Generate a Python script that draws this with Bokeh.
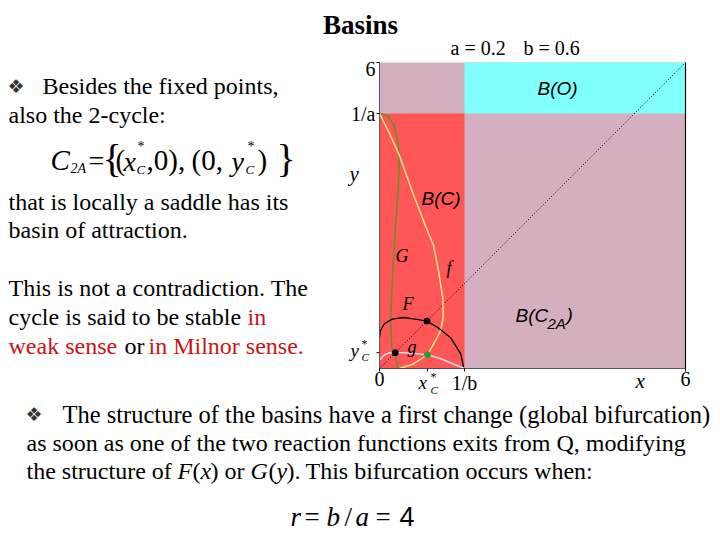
import numpy as np
from bokeh.plotting import figure
from bokeh.models import Label, Range1d
from bokeh.embed import file_html
from bokeh.resources import INLINE

# ---------------- data ----------------
a_par = 0.2
b_par = 0.6
inv_a = 1 / a_par
inv_b = 1 / b_par
x_max = 6
x_c_star = 0.94
y_c_star = 0.31

basin_left = [0, inv_b, 0]
basin_right = [x_max, x_max, inv_b]
basin_bottom = [0, inv_a, 0]
basin_top = [x_max, x_max, inv_a]
basin_colors = ["#D4AFBF", "#80FFFF", "#FF5757"]

f_x = [0, 0.2, 0.39, 0.65, 0.9, 1.06, 1.16, 1.24, 1.25, 1.2, 1.1, 0.94, 0.65, 0.39]
f_y = [5, 4.6, 4.18, 3.45, 2.8, 2.41, 1.9, 1.39, 1.0, 0.75, 0.55, 0.27, 0.08, 0.0]

G_x = [0, 0.16, 0.29, 0.35, 0.39, 0.37, 0.33, 0.29, 0.24, 0.22, 0.24, 0.31, 0.36]
G_y = [5, 4.96, 4.76, 4.51, 4.18, 3.53, 3.0, 2.41, 1.53, 0.88, 0.41, 0.31, 0.0]

F_x = [0, 0.02, 0.1, 0.25, 0.47, 0.7, 0.93, 1.15, 1.39, 1.59, 1.65]
F_y = [0.62, 0.75, 0.88, 0.97, 1.0, 0.97, 0.93, 0.8, 0.61, 0.29, 0.02]

g_x = [0, 0.1, 0.2, 0.31, 0.5, 0.74, 0.94, 1.2, 1.45, 1.667]
g_y = [0.17, 0.27, 0.31, 0.31, 0.31, 0.29, 0.27, 0.19, 0.09, 0.0]

diag_x = [0, x_max]
diag_y = [0, x_max]

fixed_x = [0.31, 0.93]
fixed_y = [0.31, 0.93]
cycle_x = [x_c_star]
cycle_y = [0.27]

x_ticks = [0, x_c_star, inv_b, x_max]
x_tick_labels = ["0", "", "1/b", "6"]
y_ticks = [y_c_star, inv_a, x_max]
y_tick_labels = ["", "1/a", "6"]

# ---------------- figure ----------------
W, H = 720, 540
PX0, PY0, UNIT = 379, 368, 51.0   # screen position of the chart origin, pixels per unit
p = figure(width=W, height=H,
           x_range=Range1d(-PX0 / UNIT, (W - PX0) / UNIT),
           y_range=Range1d(-(H - PY0) / UNIT, PY0 / UNIT),
           output_backend="svg", toolbar_location=None,
           x_axis_location=None, y_axis_location=None, min_border=0)
p.grid.visible = False
p.outline_line_color = None
p.background_fill_color = "white"
p.border_fill_color = "white"

p.quad(left=basin_left, right=basin_right, bottom=basin_bottom, top=basin_top,
       fill_color=basin_colors, line_color=None)

p.line(diag_x, diag_y, line_color="black", line_dash="1 2", line_width=1)
p.line(G_x, G_y, line_color="#6E8B2A", line_width=1.6)
p.line(f_x, f_y, line_color="#FFEB8A", line_width=1.4)
p.line(F_x, F_y, line_color="black", line_width=1.3)
p.line(g_x, g_y, line_color="#D8D8E0", line_width=1.6)
p.scatter(fixed_x, fixed_y, size=6, color="black")
p.scatter(cycle_x, cycle_y, size=6, color="#2E9A2E")

# frame of the phase plane
p.line([0, 0], [0, x_max], line_color="#555577", line_width=1)
p.line([x_max, x_max], [0, x_max], line_color="black", line_width=1.2)
p.line([0, x_max], [0, 0], line_color="#333333", line_width=0.8)

# axis ticks and tick labels (drawn with the chart scales)
tick = 3 / UNIT
p.segment(x0=x_ticks, y0=[0] * len(x_ticks), x1=x_ticks, y1=[-tick] * len(x_ticks),
          line_color="black", line_width=1)
p.segment(x0=[0] * len(y_ticks), y0=y_ticks, x1=[-tick] * len(y_ticks), y1=y_ticks,
          line_color="black", line_width=1)
p.text(x=x_ticks, y=[0] * len(x_ticks), text=x_tick_labels, text_align="center",
       text_baseline="top", y_offset=3, text_font="Liberation Serif",
       text_font_size="20px", text_color="black")
p.text(x=[0] * len(y_ticks), y=y_ticks, text=y_tick_labels, text_align="right",
       text_baseline="middle", x_offset=-4, y_offset=[0, 0, 6], text_font="Liberation Serif",
       text_font_size="20px", text_color="black")


def lab(txt, px, py, size=24, color="black", style="normal", font="Liberation Serif",
        align="left"):
    p.add_layout(Label(x=px, y=H - py, x_units="screen", y_units="screen",
                       text=txt, text_font=font, text_font_size=f"{size}px",
                       text_color=color, text_font_style=style, text_align=align,
                       text_baseline="middle"))


RED = "#C81414"
# title
lab("Basins", 360, 24, size=27, style="bold", align="center")

# left text
lab("\u2756", 7, 85, size=19, font="DejaVu Sans", color="#333333")
lab("Besides the fixed points,", 42, 85)
lab("also the 2-cycle:", 8, 114)
# equation
lab("C", 50, 159, size=29, style="italic")
lab("2A", 70, 168, size=14, style="italic")
lab("=", 88, 160, size=28)
lab("{", 102, 158, size=40)
lab("(", 115, 159, size=29)
lab("x", 123, 161, size=28, style="italic")
lab("*", 137, 146, size=14)
lab("C", 136, 169, size=13, style="italic")
lab(",0),", 146, 159, size=29)
lab("(0,", 191, 159, size=29)
lab("y", 231, 161, size=28, style="italic")
lab("*", 247, 146, size=14)
lab("C", 245, 169, size=13, style="italic")
lab(")", 257, 159, size=29)
lab("}", 276, 158, size=40)

lab("that is locally a saddle has its", 8, 201)
lab("basin of attraction.", 8, 229)
lab("This is not a contradiction. The", 8, 287)
lab("cycle is said to be stable", 8, 316)
lab("in", 247, 316, color=RED)
lab("weak sense", 8, 345, color=RED)
lab("or", 124, 345)
lab("in Milnor sense.", 148, 345, color=RED)

# bottom text
lab("\u2756", 25, 413, size=19, font="DejaVu Sans", color="#333333")
lab("The structure of the basins have a first change (global bifurcation)", 62, 414,
    size=24.5)
lab("as soon as one of the two reaction functions exits from Q, modifying", 26, 442)
lab("the structure of", 26, 470)
lab("F", 177, 470, style="italic")
lab("(", 192, 470)
lab("x", 200, 470, style="italic")
lab(") or", 210, 470)
lab("G", 250, 470, style="italic")
lab("(", 268, 470)
lab("y", 276, 470, style="italic")
lab(").", 286, 470)
lab("This bifurcation occurs when:", 305, 470)

lab("r", 290, 516, size=27, style="italic")
lab("=", 304, 516, size=27)
lab("b", 326, 516, size=27, style="italic")
lab("/", 344, 516, size=27)
lab("a", 355, 516, size=27, style="italic")
lab("=", 375, 516, size=27)
lab("4", 399, 516, size=27, font="Liberation Sans")

# chart annotations
lab("a = 0.2", 450, 47, size=20)
lab("b = 0.6", 523, 47, size=20)
lab("y", 349, 173, size=21, style="italic")
lab("y", 350, 350, size=19, style="italic")
lab("*", 361, 343, size=12)
lab("C", 361, 356, size=11, style="italic")
lab("x", 418, 382, size=19, style="italic")
lab("*", 430, 376, size=12)
lab("C", 430, 389, size=11, style="italic")
lab("x", 635, 380, size=21, style="italic")

lab("B(O)", 537, 88, size=19, style="italic", font="Liberation Sans")
lab("B(C)", 421, 198, size=19, style="italic", font="Liberation Sans")
lab("B(C", 515, 315, size=19, style="italic", font="Liberation Sans")
lab("2A", 547, 323, size=15, style="italic", font="Liberation Sans")
lab(")", 566, 314, size=19, style="italic", font="Liberation Sans")
lab("G", 395, 255, size=18, style="italic")
lab("f", 446, 267, size=18, style="italic")
lab("F", 402, 303, size=18, style="italic")
lab("g", 407, 346, size=18, style="italic")

open("out.html", "w").write(file_html(p, INLINE))
